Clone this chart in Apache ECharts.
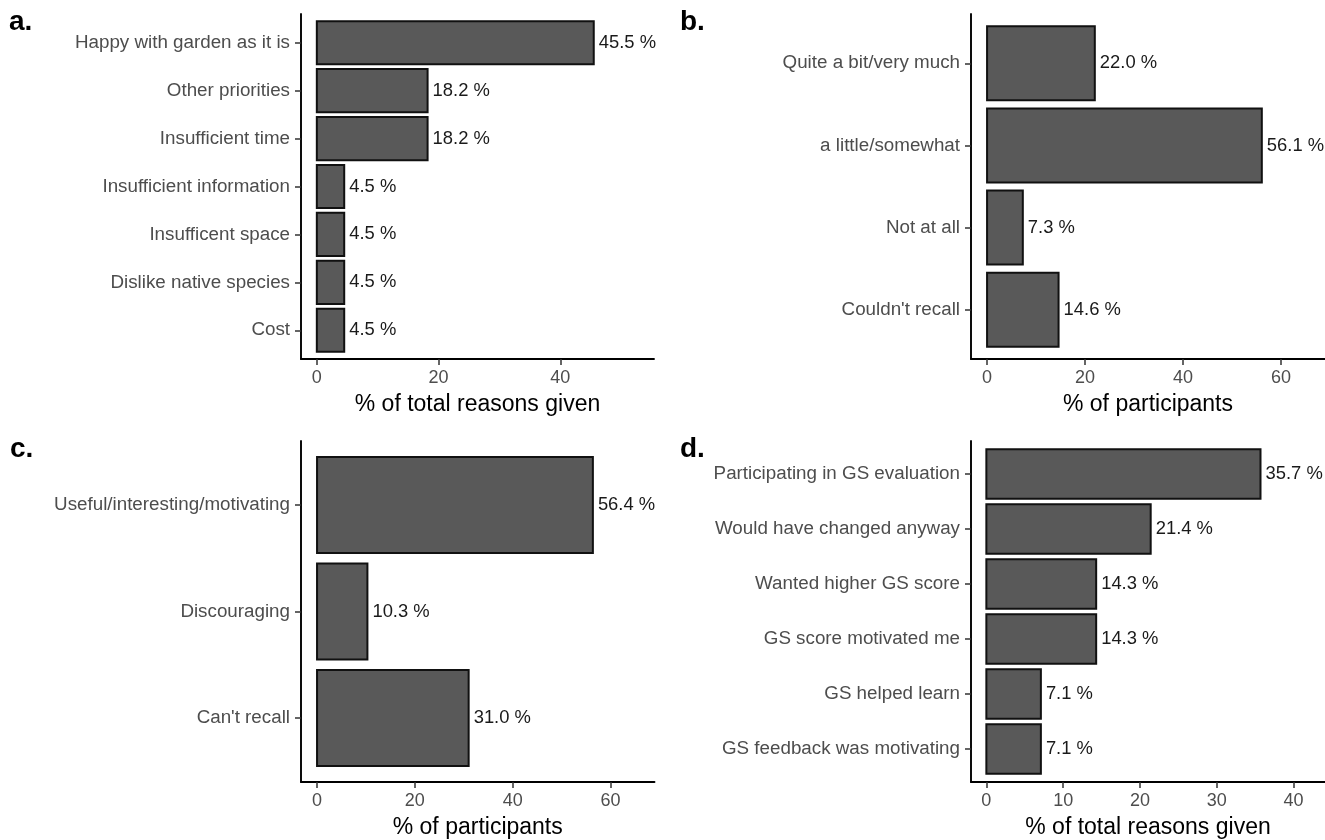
<!DOCTYPE html>
<html>
<head>
<meta charset="utf-8">
<script src="https://cdn.jsdelivr.net/npm/echarts@6/dist/echarts.min.js"></script>
<style>html,body{margin:0;padding:0;background:#fff}#c{width:1325px;height:840px}</style>
</head>
<body>
<div id="c"></div>
<script>
// ---- data ----
const catsA = ['Happy with garden as it is', 'Other priorities', 'Insufficient time', 'Insufficient information', 'Insufficent space', 'Dislike native species', 'Cost'];
const valsA = [45.5, 18.2, 18.2, 4.5, 4.5, 4.5, 4.5];
const ticksA = [0, 20, 40];
const titleA = '% of total reasons given';

const catsB = ['Quite a bit/very much', 'a little/somewhat', 'Not at all', "Couldn't recall"];
const valsB = [22.0, 56.1, 7.3, 14.6];
const ticksB = [0, 20, 40, 60];
const titleB = '% of participants';

const catsC = ['Useful/interesting/motivating', 'Discouraging', "Can't recall"];
const valsC = [56.4, 10.3, 31.0];
const ticksC = [0, 20, 40, 60];
const titleC = '% of participants';

const catsD = ['Participating in GS evaluation', 'Would have changed anyway', 'Wanted higher GS score', 'GS score motivated me', 'GS helped learn', 'GS feedback was motivating'];
const valsD = [35.7, 21.4, 14.3, 14.3, 7.1, 7.1];
const ticksD = [0, 10, 20, 30, 40];
const titleD = '% of total reasons given';

const panelLetters = ['a.', 'b.', 'c.', 'd.'];

// ---- layout / style ----
const FONT = "'Liberation Sans', Arial, Helvetica, sans-serif";
const panels = [
  {cats: catsA, vals: valsA, ticks: ticksA, name: titleA, xmin: -2.6, xmax: 55.4, grid: {left: 301, top: 14, width: 353, height: 345}},
  {cats: catsB, vals: valsB, ticks: ticksB, name: titleB, xmin: -3.28, xmax: 69.0, grid: {left: 971, top: 14, width: 354, height: 345}},
  {cats: catsC, vals: valsC, ticks: ticksC, name: titleC, xmin: -3.28, xmax: 69.0, grid: {left: 301, top: 441, width: 353.5, height: 344}},
  {cats: catsD, vals: valsD, ticks: ticksD, name: titleD, xmin: -2.0, xmax: 44.1, grid: {left: 971, top: 441, width: 354, height: 344}}
];
const letterPos = [{left: 9, top: 8}, {left: 680, top: 8}, {left: 10, top: 435}, {left: 680, top: 435}];

const grids = [], xAxes = [], yAxes = [], series = [], titles = [];

panels.forEach((p, i) => {
  grids.push(Object.assign({containLabel: false}, p.grid));
  xAxes.push({
    type: 'value', gridIndex: i, min: p.xmin, max: p.xmax, position: 'bottom',
    name: p.name, nameLocation: 'middle', nameGap: 34,
    nameTextStyle: {fontSize: 23, color: '#000', fontFamily: FONT},
    axisLine: {show: true, onZero: false, lineStyle: {color: '#000', width: 1.9}},
    axisTick: {show: true, length: 6, customValues: p.ticks, lineStyle: {color: '#333', width: 1.5}},
    axisLabel: {customValues: p.ticks, color: '#4d4d4d', fontSize: 18, margin: 10, fontFamily: FONT},
    splitLine: {show: false}
  });
  const pos = p.cats.map((c, k) => k + 1);
  yAxes.push({
    type: 'value', gridIndex: i, min: 0.4, max: p.cats.length + 0.6, inverse: true, position: 'left',
    axisLine: {show: true, onZero: false, lineStyle: {color: '#000', width: 1.9}},
    axisTick: {show: true, length: 6, customValues: pos, lineStyle: {color: '#333', width: 1.5}},
    axisLabel: {
      customValues: pos, color: '#4d4d4d', fontSize: 18.8, margin: 11, fontFamily: FONT,
      formatter: (v) => p.cats[Math.round(v) - 1] || ''
    },
    splitLine: {show: false}
  });
  series.push({
    type: 'custom', xAxisIndex: i, yAxisIndex: i,
    encode: {x: 0, y: 1},
    data: p.vals.map((v, k) => [v, k + 1]),
    renderItem: (params, api) => {
      const v = api.value(0), y = api.value(1);
      const s = api.coord([0, y]);
      const e = api.coord([v, y]);
      const h = api.size([0, 0.9])[1];
      return {
        type: 'group',
        children: [
          {type: 'rect', shape: {x: s[0], y: s[1] - h / 2, width: e[0] - s[0], height: h},
           style: {fill: '#595959', stroke: '#111', lineWidth: 2}},
          {type: 'text', x: e[0] + 5, y: e[1],
           style: {text: v.toFixed(1) + ' %', fill: '#1a1a1a', fontSize: 18.4, fontFamily: FONT,
                   align: 'left', verticalAlign: 'middle'}}
        ]
      };
    }
  });
  titles.push(Object.assign({text: panelLetters[i], textStyle: {fontSize: 28, fontWeight: 'bold', color: '#000', fontFamily: FONT}, padding: 0}, letterPos[i]));
});

const chart = echarts.init(document.getElementById('c'), null, {renderer: 'canvas'});
chart.setOption({
  animation: false,
  backgroundColor: '#fff',
  textStyle: {fontFamily: FONT},
  title: titles,
  grid: grids,
  xAxis: xAxes,
  yAxis: yAxes,
  series: series
});
</script>
</body>
</html>
